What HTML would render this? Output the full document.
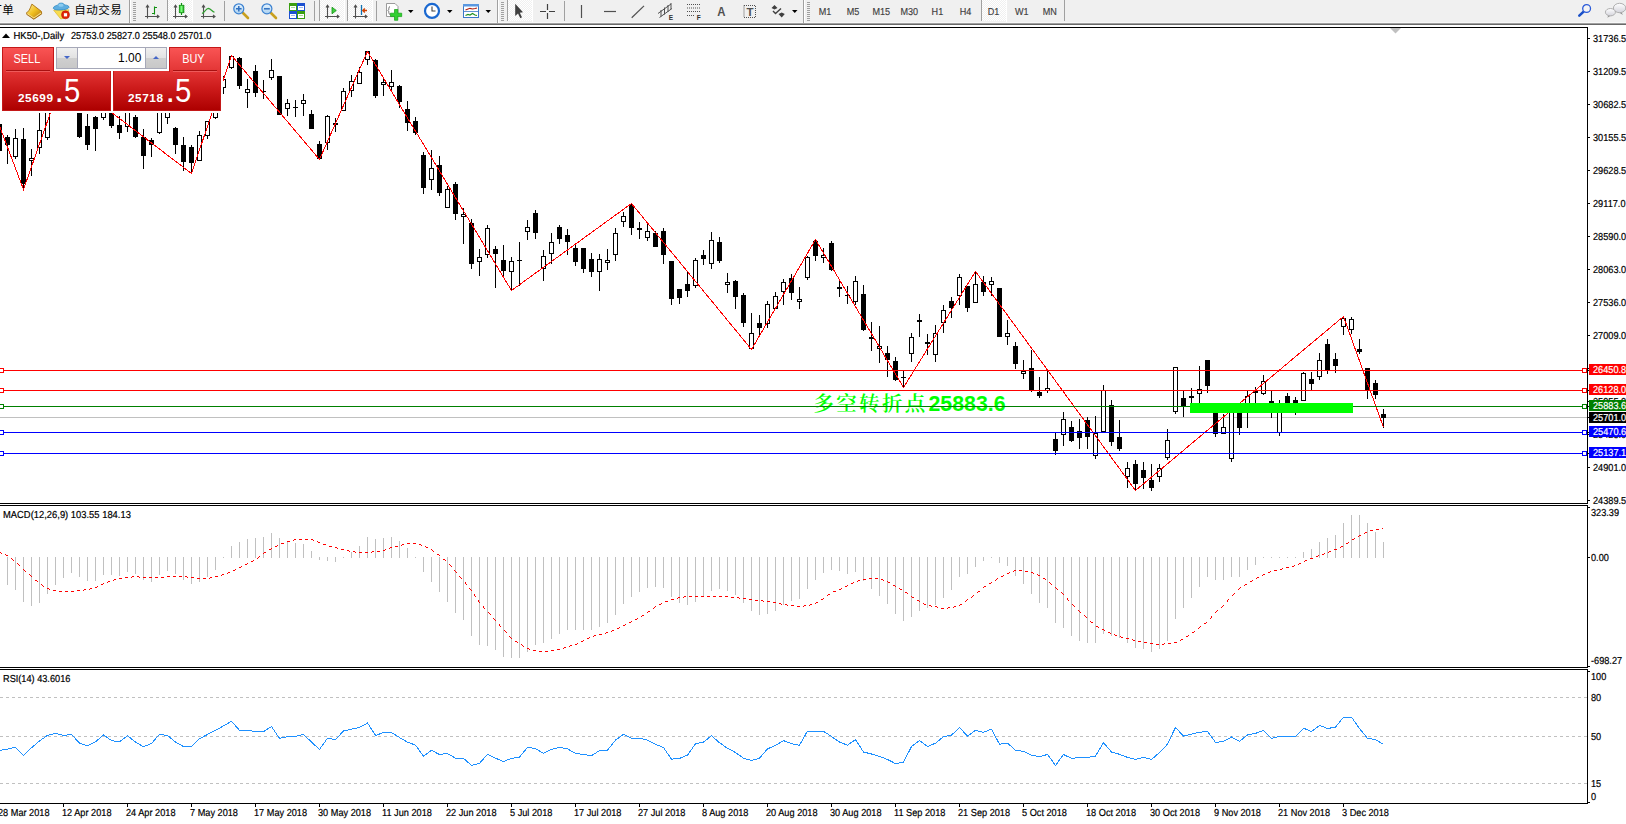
<!DOCTYPE html>
<html><head><meta charset="utf-8"><title>HK50-,Daily</title>
<style>
html,body{margin:0;padding:0;background:#fff}
body{width:1626px;height:824px;overflow:hidden;position:relative;font-family:"Liberation Sans","Noto Sans CJK SC",sans-serif}
.tp{position:absolute;left:0;top:45px;width:224px;height:68px}
.tpbg{position:absolute;left:0;top:0;width:223px;height:68px;background:#fff}
.tab{z-index:2;position:absolute;top:2px;width:52px;height:25px;box-sizing:border-box;border:1px solid #c41818;border-bottom:none;background:linear-gradient(#f95454,#e23434);color:#fff;font-size:13px;text-align:center;line-height:22px}
.tab span{display:inline-block;transform:scaleX(0.84);position:relative;top:0px;left:-1.5px}
.tab i{position:absolute;left:3px;right:3px;bottom:1px;height:1px;background:#a81010;box-shadow:0 1px 0 #ee5a5a}
.sell{left:2px}.buy{left:169px}
.px{position:absolute;top:26px;height:40px;width:109px;box-sizing:border-box;border:1px solid #c41818;border-top:none;background:linear-gradient(#e23434,#cc1a1a 45%,#ad0000);color:#fff}
.sellp{left:2px}.buyp{left:113px;width:108px}
.px b{position:absolute;left:15px;top:20px;font-size:11.8px;font-weight:bold;line-height:14px;letter-spacing:0.55px}
.px em{position:absolute;left:51.5px;top:0px;font-style:normal;font-size:34px;line-height:38px}
.px u{position:absolute;left:61px;top:0px;text-decoration:none;font-size:34px;line-height:38px;transform:scaleX(0.86);transform-origin:left}
.buyp b{left:14px}.buyp em{left:51.5px}.buyp u{left:61px}
.spin{position:absolute;left:56px;top:2px;width:111px;height:22px;box-sizing:border-box;border:1px solid #a6a8b8;background:#fff}
.sb{position:absolute;top:0;width:20px;height:20px;background:linear-gradient(#efefef,#e2e2e2 50%,#cfcfcf 51%,#c8c8c8)}
.sb.l{left:0;border-right:1px solid #a6a8b8}.sb.r{right:0;border-left:1px solid #a6a8b8}
.sb s{position:absolute;left:7px;top:8px;width:0;height:0;border-left:3px solid transparent;border-right:3px solid transparent}
.sb s.dn{border-top:3px solid #4466c8}.sb s.up{border-bottom:3px solid #4466c8}
.val{position:absolute;right:25px;top:0;font-size:13px;line-height:20px;color:#000;transform:scaleX(0.92);transform-origin:right}

</style></head><body>
<svg width="1626" height="824" viewBox="0 0 1626 824" shape-rendering="crispEdges" style="position:absolute;left:0;top:0"><rect x="0" y="27" width="1588" height="1" fill="#000"/>
<rect x="1587" y="27" width="1" height="477" fill="#000"/>
<rect x="0" y="503" width="1588" height="1" fill="#000"/>
<rect x="0" y="505" width="1588" height="1" fill="#000"/>
<rect x="1587" y="505" width="1" height="163" fill="#000"/>
<rect x="0" y="667" width="1588" height="1" fill="#000"/>
<rect x="0" y="669" width="1588" height="1" fill="#000"/>
<rect x="1587" y="669" width="1" height="135" fill="#000"/>
<rect x="0" y="803" width="1588" height="1" fill="#000"/>
<polygon points="1390,28 1401,28 1395.5,33.5" fill="#c0c0c0" shape-rendering="geometricPrecision"/>
<rect x="0" y="417" width="1587" height="1" fill="#c0c0c0"/>
<g><rect x="-1" y="122" width="1" height="31" fill="#000"/><rect x="-3" y="124" width="5" height="27" fill="#000"/><rect x="7" y="135" width="1" height="29" fill="#000"/><rect x="5" y="137" width="5" height="8" fill="#000"/><rect x="15" y="129" width="1" height="30" fill="#000"/><rect x="13" y="138" width="5" height="19" fill="#000"/><rect x="14" y="139" width="3" height="17" fill="#fff"/><rect x="23" y="128" width="1" height="62" fill="#000"/><rect x="21" y="139" width="5" height="45" fill="#000"/><rect x="31" y="149" width="1" height="27" fill="#000"/><rect x="29" y="158" width="5" height="3" fill="#000"/><rect x="30" y="159" width="3" height="1" fill="#fff"/><rect x="39" y="100" width="1" height="54" fill="#000"/><rect x="37" y="130" width="5" height="18" fill="#000"/><rect x="38" y="131" width="3" height="16" fill="#fff"/><rect x="47" y="100" width="1" height="40" fill="#000"/><rect x="45" y="105" width="5" height="33" fill="#000"/><rect x="46" y="106" width="3" height="31" fill="#fff"/><rect x="79" y="100" width="1" height="38" fill="#000"/><rect x="77" y="105" width="5" height="32" fill="#000"/><rect x="87" y="114" width="1" height="36" fill="#000"/><rect x="85" y="126" width="5" height="19" fill="#000"/><rect x="95" y="116" width="1" height="35" fill="#000"/><rect x="93" y="117" width="5" height="12" fill="#000"/><rect x="103" y="100" width="1" height="20" fill="#000"/><rect x="101" y="105" width="5" height="13" fill="#000"/><rect x="102" y="106" width="3" height="11" fill="#fff"/><rect x="111" y="100" width="1" height="28" fill="#000"/><rect x="109" y="105" width="5" height="21" fill="#000"/><rect x="119" y="116" width="1" height="23" fill="#000"/><rect x="117" y="125" width="5" height="8" fill="#000"/><rect x="127" y="100" width="1" height="32" fill="#000"/><rect x="125" y="105" width="5" height="22" fill="#000"/><rect x="126" y="106" width="3" height="20" fill="#fff"/><rect x="135" y="115" width="1" height="23" fill="#000"/><rect x="133" y="117" width="5" height="20" fill="#000"/><rect x="143" y="129" width="1" height="40" fill="#000"/><rect x="141" y="137" width="5" height="19" fill="#000"/><rect x="151" y="138" width="1" height="19" fill="#000"/><rect x="149" y="140" width="5" height="5" fill="#000"/><rect x="159" y="100" width="1" height="34" fill="#000"/><rect x="157" y="105" width="5" height="28" fill="#000"/><rect x="158" y="106" width="3" height="26" fill="#fff"/><rect x="167" y="100" width="1" height="24" fill="#000"/><rect x="165" y="105" width="5" height="13" fill="#000"/><rect x="166" y="106" width="3" height="11" fill="#fff"/><rect x="175" y="127" width="1" height="27" fill="#000"/><rect x="173" y="128" width="5" height="17" fill="#000"/><rect x="183" y="137" width="1" height="34" fill="#000"/><rect x="181" y="145" width="5" height="17" fill="#000"/><rect x="191" y="145" width="1" height="29" fill="#000"/><rect x="189" y="147" width="5" height="16" fill="#000"/><rect x="199" y="131" width="1" height="30" fill="#000"/><rect x="197" y="135" width="5" height="26" fill="#000"/><rect x="198" y="136" width="3" height="24" fill="#fff"/><rect x="207" y="121" width="1" height="18" fill="#000"/><rect x="205" y="121" width="5" height="15" fill="#000"/><rect x="206" y="122" width="3" height="13" fill="#fff"/><rect x="215" y="100" width="1" height="19" fill="#000"/><rect x="213" y="105" width="5" height="13" fill="#000"/><rect x="214" y="106" width="3" height="11" fill="#fff"/><rect x="223" y="76" width="1" height="18" fill="#000"/><rect x="221" y="79" width="5" height="9" fill="#000"/><rect x="222" y="80" width="3" height="7" fill="#fff"/><rect x="231" y="55" width="1" height="14" fill="#000"/><rect x="229" y="56" width="5" height="12" fill="#000"/><rect x="230" y="57" width="3" height="10" fill="#fff"/><rect x="239" y="57" width="1" height="32" fill="#000"/><rect x="237" y="58" width="5" height="28" fill="#000"/><rect x="247" y="79" width="1" height="29" fill="#000"/><rect x="245" y="89" width="5" height="4" fill="#000"/><rect x="246" y="90" width="3" height="2" fill="#fff"/><rect x="255" y="65" width="1" height="32" fill="#000"/><rect x="253" y="71" width="5" height="22" fill="#000"/><rect x="263" y="80" width="1" height="19" fill="#000"/><rect x="261" y="91" width="5" height="1" fill="#000"/><rect x="271" y="59" width="1" height="21" fill="#000"/><rect x="269" y="70" width="5" height="8" fill="#000"/><rect x="270" y="71" width="3" height="6" fill="#fff"/><rect x="279" y="76" width="1" height="39" fill="#000"/><rect x="277" y="76" width="5" height="39" fill="#000"/><rect x="287" y="99" width="1" height="17" fill="#000"/><rect x="285" y="103" width="5" height="6" fill="#000"/><rect x="286" y="104" width="3" height="4" fill="#fff"/><rect x="295" y="100" width="1" height="17" fill="#000"/><rect x="293" y="107" width="5" height="1" fill="#000"/><rect x="303" y="94" width="1" height="22" fill="#000"/><rect x="301" y="100" width="5" height="4" fill="#000"/><rect x="302" y="101" width="3" height="2" fill="#fff"/><rect x="311" y="110" width="1" height="19" fill="#000"/><rect x="309" y="114" width="5" height="15" fill="#000"/><rect x="319" y="141" width="1" height="19" fill="#000"/><rect x="317" y="144" width="5" height="15" fill="#000"/><rect x="327" y="115" width="1" height="35" fill="#000"/><rect x="325" y="116" width="5" height="27" fill="#000"/><rect x="326" y="117" width="3" height="25" fill="#fff"/><rect x="335" y="118" width="1" height="14" fill="#000"/><rect x="333" y="123" width="5" height="2" fill="#000"/><rect x="343" y="88" width="1" height="23" fill="#000"/><rect x="341" y="91" width="5" height="20" fill="#000"/><rect x="342" y="92" width="3" height="18" fill="#fff"/><rect x="351" y="75" width="1" height="22" fill="#000"/><rect x="349" y="81" width="5" height="10" fill="#000"/><rect x="350" y="82" width="3" height="8" fill="#fff"/><rect x="359" y="67" width="1" height="17" fill="#000"/><rect x="357" y="72" width="5" height="12" fill="#000"/><rect x="358" y="73" width="3" height="10" fill="#fff"/><rect x="367" y="51" width="1" height="14" fill="#000"/><rect x="365" y="51" width="5" height="9" fill="#000"/><rect x="366" y="52" width="3" height="7" fill="#fff"/><rect x="375" y="59" width="1" height="39" fill="#000"/><rect x="373" y="60" width="5" height="36" fill="#000"/><rect x="383" y="78" width="1" height="18" fill="#000"/><rect x="381" y="82" width="5" height="3" fill="#000"/><rect x="382" y="83" width="3" height="1" fill="#fff"/><rect x="391" y="70" width="1" height="21" fill="#000"/><rect x="389" y="82" width="5" height="5" fill="#000"/><rect x="390" y="83" width="3" height="3" fill="#fff"/><rect x="399" y="85" width="1" height="23" fill="#000"/><rect x="397" y="86" width="5" height="16" fill="#000"/><rect x="407" y="101" width="1" height="30" fill="#000"/><rect x="405" y="109" width="5" height="14" fill="#000"/><rect x="415" y="117" width="1" height="18" fill="#000"/><rect x="413" y="121" width="5" height="12" fill="#000"/><rect x="423" y="152" width="1" height="42" fill="#000"/><rect x="421" y="155" width="5" height="33" fill="#000"/><rect x="431" y="150" width="1" height="40" fill="#000"/><rect x="429" y="168" width="5" height="12" fill="#000"/><rect x="430" y="169" width="3" height="10" fill="#fff"/><rect x="439" y="156" width="1" height="40" fill="#000"/><rect x="437" y="165" width="5" height="28" fill="#000"/><rect x="447" y="186" width="1" height="22" fill="#000"/><rect x="445" y="189" width="5" height="19" fill="#000"/><rect x="446" y="190" width="3" height="17" fill="#fff"/><rect x="455" y="182" width="1" height="38" fill="#000"/><rect x="453" y="184" width="5" height="30" fill="#000"/><rect x="463" y="208" width="1" height="36" fill="#000"/><rect x="461" y="214" width="5" height="3" fill="#000"/><rect x="462" y="215" width="3" height="1" fill="#fff"/><rect x="471" y="219" width="1" height="50" fill="#000"/><rect x="469" y="223" width="5" height="41" fill="#000"/><rect x="479" y="249" width="1" height="27" fill="#000"/><rect x="477" y="257" width="5" height="5" fill="#000"/><rect x="478" y="258" width="3" height="3" fill="#fff"/><rect x="487" y="225" width="1" height="33" fill="#000"/><rect x="485" y="228" width="5" height="27" fill="#000"/><rect x="486" y="229" width="3" height="25" fill="#fff"/><rect x="495" y="246" width="1" height="42" fill="#000"/><rect x="493" y="249" width="5" height="5" fill="#000"/><rect x="503" y="245" width="1" height="33" fill="#000"/><rect x="501" y="260" width="5" height="11" fill="#000"/><rect x="511" y="257" width="1" height="34" fill="#000"/><rect x="509" y="261" width="5" height="11" fill="#000"/><rect x="510" y="262" width="3" height="9" fill="#fff"/><rect x="519" y="242" width="1" height="44" fill="#000"/><rect x="517" y="260" width="5" height="1" fill="#000"/><rect x="527" y="220" width="1" height="20" fill="#000"/><rect x="525" y="227" width="5" height="5" fill="#000"/><rect x="526" y="228" width="3" height="3" fill="#fff"/><rect x="535" y="210" width="1" height="29" fill="#000"/><rect x="533" y="213" width="5" height="20" fill="#000"/><rect x="543" y="250" width="1" height="31" fill="#000"/><rect x="541" y="256" width="5" height="13" fill="#000"/><rect x="542" y="257" width="3" height="11" fill="#fff"/><rect x="551" y="233" width="1" height="31" fill="#000"/><rect x="549" y="242" width="5" height="12" fill="#000"/><rect x="550" y="243" width="3" height="10" fill="#fff"/><rect x="559" y="225" width="1" height="19" fill="#000"/><rect x="557" y="227" width="5" height="12" fill="#000"/><rect x="567" y="229" width="1" height="26" fill="#000"/><rect x="565" y="235" width="5" height="7" fill="#000"/><rect x="575" y="243" width="1" height="23" fill="#000"/><rect x="573" y="248" width="5" height="14" fill="#000"/><rect x="583" y="248" width="1" height="25" fill="#000"/><rect x="581" y="248" width="5" height="21" fill="#000"/><rect x="591" y="253" width="1" height="24" fill="#000"/><rect x="589" y="259" width="5" height="13" fill="#000"/><rect x="599" y="254" width="1" height="37" fill="#000"/><rect x="597" y="259" width="5" height="13" fill="#000"/><rect x="598" y="260" width="3" height="11" fill="#fff"/><rect x="607" y="249" width="1" height="21" fill="#000"/><rect x="605" y="260" width="5" height="3" fill="#000"/><rect x="606" y="261" width="3" height="1" fill="#fff"/><rect x="615" y="228" width="1" height="33" fill="#000"/><rect x="613" y="233" width="5" height="22" fill="#000"/><rect x="614" y="234" width="3" height="20" fill="#fff"/><rect x="623" y="212" width="1" height="15" fill="#000"/><rect x="621" y="216" width="5" height="6" fill="#000"/><rect x="622" y="217" width="3" height="4" fill="#fff"/><rect x="631" y="203" width="1" height="32" fill="#000"/><rect x="629" y="205" width="5" height="23" fill="#000"/><rect x="639" y="222" width="1" height="17" fill="#000"/><rect x="637" y="228" width="5" height="2" fill="#000"/><rect x="647" y="222" width="1" height="19" fill="#000"/><rect x="645" y="231" width="5" height="7" fill="#000"/><rect x="646" y="232" width="3" height="5" fill="#fff"/><rect x="655" y="231" width="1" height="16" fill="#000"/><rect x="653" y="233" width="5" height="14" fill="#000"/><rect x="663" y="228" width="1" height="36" fill="#000"/><rect x="661" y="231" width="5" height="24" fill="#000"/><rect x="671" y="261" width="1" height="44" fill="#000"/><rect x="669" y="261" width="5" height="38" fill="#000"/><rect x="679" y="289" width="1" height="15" fill="#000"/><rect x="677" y="289" width="5" height="9" fill="#000"/><rect x="687" y="272" width="1" height="25" fill="#000"/><rect x="685" y="284" width="5" height="7" fill="#000"/><rect x="695" y="258" width="1" height="30" fill="#000"/><rect x="693" y="260" width="5" height="26" fill="#000"/><rect x="694" y="261" width="3" height="24" fill="#fff"/><rect x="703" y="250" width="1" height="15" fill="#000"/><rect x="701" y="255" width="5" height="4" fill="#000"/><rect x="711" y="232" width="1" height="37" fill="#000"/><rect x="709" y="240" width="5" height="24" fill="#000"/><rect x="710" y="241" width="3" height="22" fill="#fff"/><rect x="719" y="237" width="1" height="26" fill="#000"/><rect x="717" y="242" width="5" height="19" fill="#000"/><rect x="727" y="273" width="1" height="20" fill="#000"/><rect x="725" y="282" width="5" height="3" fill="#000"/><rect x="726" y="283" width="3" height="1" fill="#fff"/><rect x="735" y="280" width="1" height="29" fill="#000"/><rect x="733" y="281" width="5" height="16" fill="#000"/><rect x="743" y="293" width="1" height="34" fill="#000"/><rect x="741" y="295" width="5" height="28" fill="#000"/><rect x="751" y="313" width="1" height="37" fill="#000"/><rect x="749" y="333" width="5" height="16" fill="#000"/><rect x="750" y="334" width="3" height="14" fill="#fff"/><rect x="759" y="315" width="1" height="20" fill="#000"/><rect x="757" y="323" width="5" height="5" fill="#000"/><rect x="767" y="301" width="1" height="27" fill="#000"/><rect x="765" y="304" width="5" height="20" fill="#000"/><rect x="766" y="305" width="3" height="18" fill="#fff"/><rect x="775" y="292" width="1" height="17" fill="#000"/><rect x="773" y="296" width="5" height="13" fill="#000"/><rect x="774" y="297" width="3" height="11" fill="#fff"/><rect x="783" y="279" width="1" height="26" fill="#000"/><rect x="781" y="282" width="5" height="10" fill="#000"/><rect x="782" y="283" width="3" height="8" fill="#fff"/><rect x="791" y="274" width="1" height="26" fill="#000"/><rect x="789" y="278" width="5" height="15" fill="#000"/><rect x="799" y="287" width="1" height="22" fill="#000"/><rect x="797" y="299" width="5" height="3" fill="#000"/><rect x="798" y="300" width="3" height="1" fill="#fff"/><rect x="807" y="256" width="1" height="24" fill="#000"/><rect x="805" y="257" width="5" height="21" fill="#000"/><rect x="806" y="258" width="3" height="19" fill="#fff"/><rect x="815" y="239" width="1" height="22" fill="#000"/><rect x="813" y="241" width="5" height="15" fill="#000"/><rect x="823" y="248" width="1" height="15" fill="#000"/><rect x="821" y="255" width="5" height="3" fill="#000"/><rect x="822" y="256" width="3" height="1" fill="#fff"/><rect x="831" y="241" width="1" height="30" fill="#000"/><rect x="829" y="243" width="5" height="27" fill="#000"/><rect x="839" y="281" width="1" height="16" fill="#000"/><rect x="837" y="287" width="5" height="2" fill="#000"/><rect x="847" y="286" width="1" height="18" fill="#000"/><rect x="845" y="295" width="5" height="1" fill="#000"/><rect x="855" y="276" width="1" height="29" fill="#000"/><rect x="853" y="281" width="5" height="21" fill="#000"/><rect x="854" y="282" width="3" height="19" fill="#fff"/><rect x="863" y="285" width="1" height="46" fill="#000"/><rect x="861" y="294" width="5" height="36" fill="#000"/><rect x="871" y="322" width="1" height="29" fill="#000"/><rect x="869" y="337" width="5" height="2" fill="#000"/><rect x="879" y="326" width="1" height="37" fill="#000"/><rect x="877" y="346" width="5" height="3" fill="#000"/><rect x="878" y="347" width="3" height="1" fill="#fff"/><rect x="887" y="346" width="1" height="31" fill="#000"/><rect x="885" y="353" width="5" height="7" fill="#000"/><rect x="895" y="357" width="1" height="24" fill="#000"/><rect x="893" y="361" width="5" height="19" fill="#000"/><rect x="903" y="371" width="1" height="17" fill="#000"/><rect x="901" y="377" width="5" height="1" fill="#000"/><rect x="911" y="333" width="1" height="29" fill="#000"/><rect x="909" y="337" width="5" height="17" fill="#000"/><rect x="910" y="338" width="3" height="15" fill="#fff"/><rect x="919" y="314" width="1" height="23" fill="#000"/><rect x="917" y="320" width="5" height="2" fill="#000"/><rect x="927" y="334" width="1" height="21" fill="#000"/><rect x="925" y="342" width="5" height="2" fill="#000"/><rect x="935" y="325" width="1" height="37" fill="#000"/><rect x="933" y="333" width="5" height="22" fill="#000"/><rect x="934" y="334" width="3" height="20" fill="#fff"/><rect x="943" y="305" width="1" height="28" fill="#000"/><rect x="941" y="310" width="5" height="13" fill="#000"/><rect x="942" y="311" width="3" height="11" fill="#fff"/><rect x="951" y="297" width="1" height="21" fill="#000"/><rect x="949" y="301" width="5" height="7" fill="#000"/><rect x="959" y="274" width="1" height="31" fill="#000"/><rect x="957" y="277" width="5" height="19" fill="#000"/><rect x="958" y="278" width="3" height="17" fill="#fff"/><rect x="967" y="286" width="1" height="26" fill="#000"/><rect x="965" y="286" width="5" height="22" fill="#000"/><rect x="975" y="271" width="1" height="32" fill="#000"/><rect x="973" y="284" width="5" height="19" fill="#000"/><rect x="974" y="285" width="3" height="17" fill="#fff"/><rect x="983" y="276" width="1" height="20" fill="#000"/><rect x="981" y="282" width="5" height="10" fill="#000"/><rect x="991" y="277" width="1" height="19" fill="#000"/><rect x="989" y="281" width="5" height="4" fill="#000"/><rect x="990" y="282" width="3" height="2" fill="#fff"/><rect x="999" y="288" width="1" height="49" fill="#000"/><rect x="997" y="288" width="5" height="49" fill="#000"/><rect x="1007" y="320" width="1" height="25" fill="#000"/><rect x="1005" y="333" width="5" height="4" fill="#000"/><rect x="1006" y="334" width="3" height="2" fill="#fff"/><rect x="1015" y="342" width="1" height="27" fill="#000"/><rect x="1013" y="346" width="5" height="18" fill="#000"/><rect x="1023" y="360" width="1" height="19" fill="#000"/><rect x="1021" y="371" width="5" height="3" fill="#000"/><rect x="1022" y="372" width="3" height="1" fill="#fff"/><rect x="1031" y="350" width="1" height="42" fill="#000"/><rect x="1029" y="368" width="5" height="22" fill="#000"/><rect x="1039" y="377" width="1" height="21" fill="#000"/><rect x="1037" y="392" width="5" height="4" fill="#000"/><rect x="1047" y="369" width="1" height="24" fill="#000"/><rect x="1045" y="388" width="5" height="3" fill="#000"/><rect x="1046" y="389" width="3" height="1" fill="#fff"/><rect x="1055" y="432" width="1" height="23" fill="#000"/><rect x="1053" y="439" width="5" height="12" fill="#000"/><rect x="1063" y="412" width="1" height="34" fill="#000"/><rect x="1061" y="419" width="5" height="16" fill="#000"/><rect x="1062" y="420" width="3" height="14" fill="#fff"/><rect x="1071" y="421" width="1" height="21" fill="#000"/><rect x="1069" y="427" width="5" height="14" fill="#000"/><rect x="1079" y="419" width="1" height="30" fill="#000"/><rect x="1077" y="431" width="5" height="7" fill="#000"/><rect x="1087" y="417" width="1" height="32" fill="#000"/><rect x="1085" y="420" width="5" height="17" fill="#000"/><rect x="1095" y="416" width="1" height="43" fill="#000"/><rect x="1093" y="433" width="5" height="23" fill="#000"/><rect x="1094" y="434" width="3" height="21" fill="#fff"/><rect x="1103" y="385" width="1" height="47" fill="#000"/><rect x="1101" y="390" width="5" height="42" fill="#000"/><rect x="1102" y="391" width="3" height="40" fill="#fff"/><rect x="1111" y="400" width="1" height="46" fill="#000"/><rect x="1109" y="405" width="5" height="37" fill="#000"/><rect x="1119" y="420" width="1" height="31" fill="#000"/><rect x="1117" y="437" width="5" height="12" fill="#000"/><rect x="1127" y="462" width="1" height="26" fill="#000"/><rect x="1125" y="468" width="5" height="9" fill="#000"/><rect x="1126" y="469" width="3" height="7" fill="#fff"/><rect x="1135" y="460" width="1" height="31" fill="#000"/><rect x="1133" y="464" width="5" height="20" fill="#000"/><rect x="1143" y="462" width="1" height="27" fill="#000"/><rect x="1141" y="470" width="5" height="8" fill="#000"/><rect x="1151" y="464" width="1" height="27" fill="#000"/><rect x="1149" y="480" width="5" height="8" fill="#000"/><rect x="1159" y="464" width="1" height="18" fill="#000"/><rect x="1157" y="468" width="5" height="9" fill="#000"/><rect x="1158" y="469" width="3" height="7" fill="#fff"/><rect x="1167" y="429" width="1" height="31" fill="#000"/><rect x="1165" y="440" width="5" height="18" fill="#000"/><rect x="1166" y="441" width="3" height="16" fill="#fff"/><rect x="1175" y="367" width="1" height="47" fill="#000"/><rect x="1173" y="367" width="5" height="45" fill="#000"/><rect x="1174" y="368" width="3" height="43" fill="#fff"/><rect x="1183" y="391" width="1" height="26" fill="#000"/><rect x="1181" y="398" width="5" height="9" fill="#000"/><rect x="1191" y="388" width="1" height="17" fill="#000"/><rect x="1189" y="396" width="5" height="2" fill="#000"/><rect x="1199" y="366" width="1" height="39" fill="#000"/><rect x="1197" y="389" width="5" height="5" fill="#000"/><rect x="1198" y="390" width="3" height="3" fill="#fff"/><rect x="1207" y="360" width="1" height="33" fill="#000"/><rect x="1205" y="360" width="5" height="26" fill="#000"/><rect x="1215" y="405" width="1" height="32" fill="#000"/><rect x="1213" y="405" width="5" height="29" fill="#000"/><rect x="1223" y="414" width="1" height="20" fill="#000"/><rect x="1221" y="427" width="5" height="7" fill="#000"/><rect x="1222" y="428" width="3" height="5" fill="#fff"/><rect x="1231" y="405" width="1" height="57" fill="#000"/><rect x="1229" y="405" width="5" height="54" fill="#000"/><rect x="1230" y="406" width="3" height="52" fill="#fff"/><rect x="1239" y="405" width="1" height="30" fill="#000"/><rect x="1237" y="405" width="5" height="23" fill="#000"/><rect x="1247" y="391" width="1" height="37" fill="#000"/><rect x="1245" y="396" width="5" height="12" fill="#000"/><rect x="1246" y="397" width="3" height="10" fill="#fff"/><rect x="1255" y="387" width="1" height="18" fill="#000"/><rect x="1253" y="391" width="5" height="2" fill="#000"/><rect x="1263" y="375" width="1" height="20" fill="#000"/><rect x="1261" y="381" width="5" height="13" fill="#000"/><rect x="1262" y="382" width="3" height="11" fill="#fff"/><rect x="1271" y="391" width="1" height="27" fill="#000"/><rect x="1269" y="401" width="5" height="4" fill="#000"/><rect x="1279" y="400" width="1" height="36" fill="#000"/><rect x="1277" y="405" width="5" height="28" fill="#000"/><rect x="1278" y="406" width="3" height="26" fill="#fff"/><rect x="1287" y="393" width="1" height="12" fill="#000"/><rect x="1285" y="396" width="5" height="9" fill="#000"/><rect x="1295" y="397" width="1" height="18" fill="#000"/><rect x="1293" y="400" width="5" height="5" fill="#000"/><rect x="1303" y="372" width="1" height="29" fill="#000"/><rect x="1301" y="373" width="5" height="28" fill="#000"/><rect x="1302" y="374" width="3" height="26" fill="#fff"/><rect x="1311" y="372" width="1" height="18" fill="#000"/><rect x="1309" y="379" width="5" height="5" fill="#000"/><rect x="1319" y="353" width="1" height="27" fill="#000"/><rect x="1317" y="360" width="5" height="17" fill="#000"/><rect x="1318" y="361" width="3" height="15" fill="#fff"/><rect x="1327" y="339" width="1" height="35" fill="#000"/><rect x="1325" y="344" width="5" height="26" fill="#000"/><rect x="1335" y="353" width="1" height="20" fill="#000"/><rect x="1333" y="359" width="5" height="7" fill="#000"/><rect x="1343" y="316" width="1" height="19" fill="#000"/><rect x="1341" y="318" width="5" height="9" fill="#000"/><rect x="1342" y="319" width="3" height="7" fill="#fff"/><rect x="1351" y="317" width="1" height="17" fill="#000"/><rect x="1349" y="319" width="5" height="11" fill="#000"/><rect x="1350" y="320" width="3" height="9" fill="#fff"/><rect x="1359" y="339" width="1" height="15" fill="#000"/><rect x="1357" y="349" width="5" height="3" fill="#000"/><rect x="1367" y="368" width="1" height="31" fill="#000"/><rect x="1365" y="368" width="5" height="22" fill="#000"/><rect x="1375" y="380" width="1" height="19" fill="#000"/><rect x="1373" y="383" width="5" height="12" fill="#000"/><rect x="1383" y="409" width="1" height="19" fill="#000"/><rect x="1381" y="414" width="5" height="4" fill="#000"/></g>
<polyline points="-8.5,104.8 23.5,189.5 63.5,75.7 191.5,173.5 231.5,55.5 319.5,159.5 367.5,51.5 511.5,290.5 631.5,203.5 751.5,349.5 815.5,239.5 903.5,387.5 975.5,271.5 1135.5,490.5 1343.5,316.5 1383.5,427.5" fill="none" stroke="#f00" stroke-width="1"/>
<text x="813.5" y="411" fill="#0f0" font-size="21.33px" shape-rendering="geometricPrecision"><tspan font-family="Noto Serif CJK SC, serif" font-weight="600" font-size="20.5px" letter-spacing="2.3">多空转折点</tspan><tspan font-family="Liberation Sans, sans-serif" font-weight="bold" x="928.5">25883.6</tspan></text>
<rect x="0" y="370" width="1587" height="1" fill="#f00"/>
<rect x="-0.5" y="368.5" width="4" height="4" fill="#fff" stroke="#f00" stroke-width="1"/>
<rect x="1582.5" y="368.5" width="4" height="4" fill="#fff" stroke="#f00" stroke-width="1"/>
<rect x="0" y="390" width="1587" height="1" fill="#f00"/>
<rect x="-0.5" y="388.5" width="4" height="4" fill="#fff" stroke="#f00" stroke-width="1"/>
<rect x="1582.5" y="388.5" width="4" height="4" fill="#fff" stroke="#f00" stroke-width="1"/>
<rect x="0" y="406" width="1587" height="1" fill="#008000"/>
<rect x="-0.5" y="404.5" width="4" height="4" fill="#fff" stroke="#008000" stroke-width="1"/>
<rect x="1582.5" y="404.5" width="4" height="4" fill="#fff" stroke="#008000" stroke-width="1"/>
<rect x="0" y="432" width="1587" height="1" fill="#00f"/>
<rect x="-0.5" y="430.5" width="4" height="4" fill="#fff" stroke="#00f" stroke-width="1"/>
<rect x="1582.5" y="430.5" width="4" height="4" fill="#fff" stroke="#00f" stroke-width="1"/>
<rect x="0" y="453" width="1587" height="1" fill="#00f"/>
<rect x="-0.5" y="451.5" width="4" height="4" fill="#fff" stroke="#00f" stroke-width="1"/>
<rect x="1582.5" y="451.5" width="4" height="4" fill="#fff" stroke="#00f" stroke-width="1"/>
<rect x="1190" y="403" width="163" height="10" fill="#0f0"/>
<rect x="1588" y="38" width="2" height="1" fill="#000"/>
<rect x="1588" y="71" width="2" height="1" fill="#000"/>
<rect x="1588" y="104" width="2" height="1" fill="#000"/>
<rect x="1588" y="137" width="2" height="1" fill="#000"/>
<rect x="1588" y="170" width="2" height="1" fill="#000"/>
<rect x="1588" y="203" width="2" height="1" fill="#000"/>
<rect x="1588" y="236" width="2" height="1" fill="#000"/>
<rect x="1588" y="269" width="2" height="1" fill="#000"/>
<rect x="1588" y="302" width="2" height="1" fill="#000"/>
<rect x="1588" y="335" width="2" height="1" fill="#000"/>
<rect x="1588" y="368" width="2" height="1" fill="#000"/>
<rect x="1588" y="401" width="2" height="1" fill="#000"/>
<rect x="1588" y="434" width="2" height="1" fill="#000"/>
<rect x="1588" y="467" width="2" height="1" fill="#000"/>
<rect x="1588" y="500" width="2" height="1" fill="#000"/>
<g><rect x="7" y="557" width="1" height="28" fill="#c0c0c0"/><rect x="15" y="557" width="1" height="33" fill="#c0c0c0"/><rect x="23" y="557" width="1" height="45" fill="#c0c0c0"/><rect x="31" y="557" width="1" height="49" fill="#c0c0c0"/><rect x="39" y="557" width="1" height="46" fill="#c0c0c0"/><rect x="47" y="557" width="1" height="37" fill="#c0c0c0"/><rect x="55" y="557" width="1" height="28" fill="#c0c0c0"/><rect x="63" y="557" width="1" height="21" fill="#c0c0c0"/><rect x="71" y="557" width="1" height="16" fill="#c0c0c0"/><rect x="79" y="557" width="1" height="20" fill="#c0c0c0"/><rect x="87" y="557" width="1" height="24" fill="#c0c0c0"/><rect x="95" y="557" width="1" height="24" fill="#c0c0c0"/><rect x="103" y="557" width="1" height="18" fill="#c0c0c0"/><rect x="111" y="557" width="1" height="18" fill="#c0c0c0"/><rect x="119" y="557" width="1" height="19" fill="#c0c0c0"/><rect x="127" y="557" width="1" height="15" fill="#c0c0c0"/><rect x="135" y="557" width="1" height="17" fill="#c0c0c0"/><rect x="143" y="557" width="1" height="23" fill="#c0c0c0"/><rect x="151" y="557" width="1" height="25" fill="#c0c0c0"/><rect x="159" y="557" width="1" height="18" fill="#c0c0c0"/><rect x="167" y="557" width="1" height="14" fill="#c0c0c0"/><rect x="175" y="557" width="1" height="17" fill="#c0c0c0"/><rect x="183" y="557" width="1" height="23" fill="#c0c0c0"/><rect x="191" y="557" width="1" height="27" fill="#c0c0c0"/><rect x="199" y="557" width="1" height="25" fill="#c0c0c0"/><rect x="207" y="557" width="1" height="20" fill="#c0c0c0"/><rect x="215" y="557" width="1" height="13" fill="#c0c0c0"/><rect x="223" y="557" width="1" height="1" fill="#c0c0c0"/><rect x="231" y="546" width="1" height="12" fill="#c0c0c0"/><rect x="239" y="542" width="1" height="16" fill="#c0c0c0"/><rect x="247" y="539" width="1" height="19" fill="#c0c0c0"/><rect x="255" y="538" width="1" height="20" fill="#c0c0c0"/><rect x="263" y="537" width="1" height="21" fill="#c0c0c0"/><rect x="271" y="533" width="1" height="25" fill="#c0c0c0"/><rect x="279" y="538" width="1" height="20" fill="#c0c0c0"/><rect x="287" y="541" width="1" height="17" fill="#c0c0c0"/><rect x="295" y="543" width="1" height="15" fill="#c0c0c0"/><rect x="303" y="544" width="1" height="14" fill="#c0c0c0"/><rect x="311" y="551" width="1" height="7" fill="#c0c0c0"/><rect x="319" y="557" width="1" height="3" fill="#c0c0c0"/><rect x="327" y="557" width="1" height="4" fill="#c0c0c0"/><rect x="335" y="557" width="1" height="5" fill="#c0c0c0"/><rect x="343" y="557" width="1" height="1" fill="#c0c0c0"/><rect x="351" y="552" width="1" height="6" fill="#c0c0c0"/><rect x="359" y="546" width="1" height="12" fill="#c0c0c0"/><rect x="367" y="537" width="1" height="21" fill="#c0c0c0"/><rect x="375" y="539" width="1" height="19" fill="#c0c0c0"/><rect x="383" y="538" width="1" height="20" fill="#c0c0c0"/><rect x="391" y="537" width="1" height="21" fill="#c0c0c0"/><rect x="399" y="541" width="1" height="17" fill="#c0c0c0"/><rect x="407" y="548" width="1" height="10" fill="#c0c0c0"/><rect x="415" y="557" width="1" height="1" fill="#c0c0c0"/><rect x="423" y="557" width="1" height="15" fill="#c0c0c0"/><rect x="431" y="557" width="1" height="25" fill="#c0c0c0"/><rect x="439" y="557" width="1" height="35" fill="#c0c0c0"/><rect x="447" y="557" width="1" height="45" fill="#c0c0c0"/><rect x="455" y="557" width="1" height="56" fill="#c0c0c0"/><rect x="463" y="557" width="1" height="63" fill="#c0c0c0"/><rect x="471" y="557" width="1" height="79" fill="#c0c0c0"/><rect x="479" y="557" width="1" height="88" fill="#c0c0c0"/><rect x="487" y="557" width="1" height="89" fill="#c0c0c0"/><rect x="495" y="557" width="1" height="93" fill="#c0c0c0"/><rect x="503" y="557" width="1" height="100" fill="#c0c0c0"/><rect x="511" y="557" width="1" height="101" fill="#c0c0c0"/><rect x="519" y="557" width="1" height="101" fill="#c0c0c0"/><rect x="527" y="557" width="1" height="95" fill="#c0c0c0"/><rect x="535" y="557" width="1" height="88" fill="#c0c0c0"/><rect x="543" y="557" width="1" height="86" fill="#c0c0c0"/><rect x="551" y="557" width="1" height="82" fill="#c0c0c0"/><rect x="559" y="557" width="1" height="77" fill="#c0c0c0"/><rect x="567" y="557" width="1" height="73" fill="#c0c0c0"/><rect x="575" y="557" width="1" height="73" fill="#c0c0c0"/><rect x="583" y="557" width="1" height="73" fill="#c0c0c0"/><rect x="591" y="557" width="1" height="73" fill="#c0c0c0"/><rect x="599" y="557" width="1" height="70" fill="#c0c0c0"/><rect x="607" y="557" width="1" height="66" fill="#c0c0c0"/><rect x="615" y="557" width="1" height="58" fill="#c0c0c0"/><rect x="623" y="557" width="1" height="47" fill="#c0c0c0"/><rect x="631" y="557" width="1" height="40" fill="#c0c0c0"/><rect x="639" y="557" width="1" height="35" fill="#c0c0c0"/><rect x="647" y="557" width="1" height="31" fill="#c0c0c0"/><rect x="655" y="557" width="1" height="30" fill="#c0c0c0"/><rect x="663" y="557" width="1" height="31" fill="#c0c0c0"/><rect x="671" y="557" width="1" height="40" fill="#c0c0c0"/><rect x="679" y="557" width="1" height="46" fill="#c0c0c0"/><rect x="687" y="557" width="1" height="48" fill="#c0c0c0"/><rect x="695" y="557" width="1" height="45" fill="#c0c0c0"/><rect x="703" y="557" width="1" height="40" fill="#c0c0c0"/><rect x="711" y="557" width="1" height="34" fill="#c0c0c0"/><rect x="719" y="557" width="1" height="32" fill="#c0c0c0"/><rect x="727" y="557" width="1" height="34" fill="#c0c0c0"/><rect x="735" y="557" width="1" height="38" fill="#c0c0c0"/><rect x="743" y="557" width="1" height="46" fill="#c0c0c0"/><rect x="751" y="557" width="1" height="54" fill="#c0c0c0"/><rect x="759" y="557" width="1" height="58" fill="#c0c0c0"/><rect x="767" y="557" width="1" height="57" fill="#c0c0c0"/><rect x="775" y="557" width="1" height="54" fill="#c0c0c0"/><rect x="783" y="557" width="1" height="48" fill="#c0c0c0"/><rect x="791" y="557" width="1" height="44" fill="#c0c0c0"/><rect x="799" y="557" width="1" height="42" fill="#c0c0c0"/><rect x="807" y="557" width="1" height="32" fill="#c0c0c0"/><rect x="815" y="557" width="1" height="23" fill="#c0c0c0"/><rect x="823" y="557" width="1" height="16" fill="#c0c0c0"/><rect x="831" y="557" width="1" height="13" fill="#c0c0c0"/><rect x="839" y="557" width="1" height="14" fill="#c0c0c0"/><rect x="847" y="557" width="1" height="17" fill="#c0c0c0"/><rect x="855" y="557" width="1" height="15" fill="#c0c0c0"/><rect x="863" y="557" width="1" height="24" fill="#c0c0c0"/><rect x="871" y="557" width="1" height="32" fill="#c0c0c0"/><rect x="879" y="557" width="1" height="39" fill="#c0c0c0"/><rect x="887" y="557" width="1" height="47" fill="#c0c0c0"/><rect x="895" y="557" width="1" height="57" fill="#c0c0c0"/><rect x="903" y="557" width="1" height="64" fill="#c0c0c0"/><rect x="911" y="557" width="1" height="60" fill="#c0c0c0"/><rect x="919" y="557" width="1" height="54" fill="#c0c0c0"/><rect x="927" y="557" width="1" height="51" fill="#c0c0c0"/><rect x="935" y="557" width="1" height="48" fill="#c0c0c0"/><rect x="943" y="557" width="1" height="41" fill="#c0c0c0"/><rect x="951" y="557" width="1" height="33" fill="#c0c0c0"/><rect x="959" y="557" width="1" height="20" fill="#c0c0c0"/><rect x="967" y="557" width="1" height="17" fill="#c0c0c0"/><rect x="975" y="557" width="1" height="10" fill="#c0c0c0"/><rect x="983" y="557" width="1" height="4" fill="#c0c0c0"/><rect x="991" y="557" width="1" height="1" fill="#c0c0c0"/><rect x="999" y="557" width="1" height="6" fill="#c0c0c0"/><rect x="1007" y="557" width="1" height="9" fill="#c0c0c0"/><rect x="1015" y="557" width="1" height="19" fill="#c0c0c0"/><rect x="1023" y="557" width="1" height="27" fill="#c0c0c0"/><rect x="1031" y="557" width="1" height="37" fill="#c0c0c0"/><rect x="1039" y="557" width="1" height="46" fill="#c0c0c0"/><rect x="1047" y="557" width="1" height="51" fill="#c0c0c0"/><rect x="1055" y="557" width="1" height="66" fill="#c0c0c0"/><rect x="1063" y="557" width="1" height="71" fill="#c0c0c0"/><rect x="1071" y="557" width="1" height="79" fill="#c0c0c0"/><rect x="1079" y="557" width="1" height="84" fill="#c0c0c0"/><rect x="1087" y="557" width="1" height="86" fill="#c0c0c0"/><rect x="1095" y="557" width="1" height="86" fill="#c0c0c0"/><rect x="1103" y="557" width="1" height="77" fill="#c0c0c0"/><rect x="1111" y="557" width="1" height="79" fill="#c0c0c0"/><rect x="1119" y="557" width="1" height="81" fill="#c0c0c0"/><rect x="1127" y="557" width="1" height="86" fill="#c0c0c0"/><rect x="1135" y="557" width="1" height="91" fill="#c0c0c0"/><rect x="1143" y="557" width="1" height="92" fill="#c0c0c0"/><rect x="1151" y="557" width="1" height="95" fill="#c0c0c0"/><rect x="1159" y="557" width="1" height="92" fill="#c0c0c0"/><rect x="1167" y="557" width="1" height="84" fill="#c0c0c0"/><rect x="1175" y="557" width="1" height="62" fill="#c0c0c0"/><rect x="1183" y="557" width="1" height="51" fill="#c0c0c0"/><rect x="1191" y="557" width="1" height="41" fill="#c0c0c0"/><rect x="1199" y="557" width="1" height="30" fill="#c0c0c0"/><rect x="1207" y="557" width="1" height="20" fill="#c0c0c0"/><rect x="1215" y="557" width="1" height="23" fill="#c0c0c0"/><rect x="1223" y="557" width="1" height="23" fill="#c0c0c0"/><rect x="1231" y="557" width="1" height="20" fill="#c0c0c0"/><rect x="1239" y="557" width="1" height="20" fill="#c0c0c0"/><rect x="1247" y="557" width="1" height="13" fill="#c0c0c0"/><rect x="1255" y="557" width="1" height="8" fill="#c0c0c0"/><rect x="1263" y="557" width="1" height="1" fill="#c0c0c0"/><rect x="1271" y="557" width="1" height="1" fill="#c0c0c0"/><rect x="1279" y="557" width="1" height="1" fill="#c0c0c0"/><rect x="1287" y="557" width="1" height="1" fill="#c0c0c0"/><rect x="1295" y="557" width="1" height="1" fill="#c0c0c0"/><rect x="1303" y="552" width="1" height="6" fill="#c0c0c0"/><rect x="1311" y="549" width="1" height="9" fill="#c0c0c0"/><rect x="1319" y="542" width="1" height="16" fill="#c0c0c0"/><rect x="1327" y="538" width="1" height="20" fill="#c0c0c0"/><rect x="1335" y="535" width="1" height="23" fill="#c0c0c0"/><rect x="1343" y="523" width="1" height="35" fill="#c0c0c0"/><rect x="1351" y="515" width="1" height="43" fill="#c0c0c0"/><rect x="1359" y="515" width="1" height="43" fill="#c0c0c0"/><rect x="1367" y="523" width="1" height="35" fill="#c0c0c0"/><rect x="1375" y="532" width="1" height="26" fill="#c0c0c0"/><rect x="1383" y="542" width="1" height="16" fill="#c0c0c0"/></g>
<path d="M-1 552.5h1M0 552.5h1M1 553.5h1M5 554.5h1M6 555.5h1M7 555.5h1M11 558.5h1M12 559.5h1M13 560.5h1M17 563.5h1M18 564.5h1M19 565.5h1M23 569.5h1M24 570.5h1M25 571.5h1M29 574.5h1M30 575.5h1M31 576.5h1M35 580.5h1M36 580.5h1M37 581.5h1M41 584.5h1M42 585.5h1M43 586.5h1M47 588.5h1M48 588.5h1M49 589.5h1M53 590.5h1M54 590.5h1M55 590.5h1M59 591.5h1M60 591.5h1M61 591.5h1M65 591.5h1M66 591.5h1M67 591.5h1M71 591.5h1M72 591.5h1M73 591.5h1M77 590.5h1M78 590.5h1M79 590.5h1M83 590.5h1M84 589.5h1M85 589.5h1M89 589.5h1M90 588.5h1M91 588.5h1M95 587.5h1M96 587.5h1M97 586.5h1M101 584.5h1M102 584.5h1M103 583.5h1M107 582.5h1M108 581.5h1M109 581.5h1M113 580.5h1M114 579.5h1M115 579.5h1M119 578.5h1M120 578.5h1M121 578.5h1M125 577.5h1M126 577.5h1M127 577.5h1M131 577.5h1M132 576.5h1M133 576.5h1M137 576.5h1M138 576.5h1M139 577.5h1M143 577.5h1M144 577.5h1M145 577.5h1M149 577.5h1M150 577.5h1M151 577.5h1M155 577.5h1M156 577.5h1M157 577.5h1M161 577.5h1M162 577.5h1M163 577.5h1M167 576.5h1M168 576.5h1M169 576.5h1M173 576.5h1M174 576.5h1M175 576.5h1M179 576.5h1M180 576.5h1M181 576.5h1M185 576.5h1M186 576.5h1M187 577.5h1M191 577.5h1M192 577.5h1M193 577.5h1M197 578.5h1M198 578.5h1M199 578.5h1M203 578.5h1M204 578.5h1M205 578.5h1M209 578.5h1M210 577.5h1M211 577.5h1M215 576.5h1M216 576.5h1M217 576.5h1M221 575.5h1M222 574.5h1M223 574.5h1M227 573.5h1M228 572.5h1M229 572.5h1M233 570.5h1M234 570.5h1M235 569.5h1M239 567.5h1M240 567.5h1M241 566.5h1M245 564.5h1M246 564.5h1M247 563.5h1M251 561.5h1M252 561.5h1M253 560.5h1M257 558.5h1M258 557.5h1M259 556.5h1M263 553.5h1M264 552.5h1M265 552.5h1M269 549.5h1M270 549.5h1M271 548.5h1M275 546.5h1M276 546.5h1M277 545.5h1M281 543.5h1M282 543.5h1M283 543.5h1M287 541.5h1M288 541.5h1M289 541.5h1M293 540.5h1M294 539.5h1M295 539.5h1M299 539.5h1M300 539.5h1M301 539.5h1M305 539.5h1M306 539.5h1M307 539.5h1M311 539.5h1M312 539.5h1M313 540.5h1M317 541.5h1M318 542.5h1M319 542.5h1M323 544.5h1M324 544.5h1M325 544.5h1M329 546.5h1M330 546.5h1M331 546.5h1M335 547.5h1M336 547.5h1M337 548.5h1M341 549.5h1M342 549.5h1M343 549.5h1M347 550.5h1M348 550.5h1M349 551.5h1M353 551.5h1M354 551.5h1M355 552.5h1M359 552.5h1M360 552.5h1M361 552.5h1M365 552.5h1M366 552.5h1M367 552.5h1M371 552.5h1M372 551.5h1M373 551.5h1M377 551.5h1M378 551.5h1M379 551.5h1M383 550.5h1M384 550.5h1M385 549.5h1M389 548.5h1M390 547.5h1M391 547.5h1M395 546.5h1M396 546.5h1M397 546.5h1M401 545.5h1M402 544.5h1M403 544.5h1M407 543.5h1M408 543.5h1M409 543.5h1M413 543.5h1M414 543.5h1M415 543.5h1M419 544.5h1M420 544.5h1M421 545.5h1M425 546.5h1M426 547.5h1M427 547.5h1M431 549.5h1M432 550.5h1M433 551.5h1M437 554.5h1M438 554.5h1M439 555.5h1M443 559.5h1M444 559.5h1M445 560.5h1M449 564.5h1M450 565.5h1M451 566.5h1M454 570.5h1M455 571.5h1M456 572.5h1M459 576.5h1M460 577.5h1M461 578.5h1M465 582.5h1M465 583.5h1M466 584.5h1M469 588.5h1M470 589.5h1M471 590.5h1M474 594.5h1M474 595.5h1M475 596.5h1M478 600.5h1M478 601.5h1M479 602.5h1M483 606.5h1M483 607.5h1M484 608.5h1M488 612.5h1M489 613.5h1M490 614.5h1M493 618.5h1M494 619.5h1M495 620.5h1M499 624.5h1M499 625.5h1M500 626.5h1M504 630.5h1M505 631.5h1M506 632.5h1M509 636.5h1M510 637.5h1M511 638.5h1M515 641.5h1M516 641.5h1M517 642.5h1M521 644.5h1M522 645.5h1M523 646.5h1M527 648.5h1M528 648.5h1M529 649.5h1M533 650.5h1M534 650.5h1M535 650.5h1M539 651.5h1M540 651.5h1M541 651.5h1M545 651.5h1M546 651.5h1M547 651.5h1M551 650.5h1M552 650.5h1M553 650.5h1M557 649.5h1M558 649.5h1M559 649.5h1M563 648.5h1M564 647.5h1M565 647.5h1M569 646.5h1M570 645.5h1M571 645.5h1M575 644.5h1M576 644.5h1M577 643.5h1M581 641.5h1M582 641.5h1M583 640.5h1M587 638.5h1M588 638.5h1M589 637.5h1M593 636.5h1M594 635.5h1M595 635.5h1M599 634.5h1M600 634.5h1M601 634.5h1M605 633.5h1M606 632.5h1M607 632.5h1M611 631.5h1M612 630.5h1M613 630.5h1M617 628.5h1M618 628.5h1M619 627.5h1M623 625.5h1M624 625.5h1M625 624.5h1M629 622.5h1M630 622.5h1M631 621.5h1M635 619.5h1M636 619.5h1M637 618.5h1M641 616.5h1M642 615.5h1M643 615.5h1M647 612.5h1M648 611.5h1M649 611.5h1M653 608.5h1M654 607.5h1M655 606.5h1M659 604.5h1M660 604.5h1M661 603.5h1M665 601.5h1M666 601.5h1M667 601.5h1M671 599.5h1M672 599.5h1M673 599.5h1M677 598.5h1M678 597.5h1M679 597.5h1M683 597.5h1M684 596.5h1M685 596.5h1M689 596.5h1M690 596.5h1M691 596.5h1M695 596.5h1M696 596.5h1M697 596.5h1M701 596.5h1M702 596.5h1M703 596.5h1M707 596.5h1M708 596.5h1M709 596.5h1M713 596.5h1M714 596.5h1M715 596.5h1M719 596.5h1M720 596.5h1M721 596.5h1M725 596.5h1M726 596.5h1M727 596.5h1M731 597.5h1M732 597.5h1M733 597.5h1M737 597.5h1M738 597.5h1M739 598.5h1M743 598.5h1M744 598.5h1M745 598.5h1M749 599.5h1M750 599.5h1M751 599.5h1M755 600.5h1M756 600.5h1M757 600.5h1M761 600.5h1M762 600.5h1M763 601.5h1M767 601.5h1M768 601.5h1M769 601.5h1M773 602.5h1M774 602.5h1M775 602.5h1M779 603.5h1M780 603.5h1M781 604.5h1M785 604.5h1M786 604.5h1M787 605.5h1M791 605.5h1M792 605.5h1M793 605.5h1M797 606.5h1M798 606.5h1M799 606.5h1M803 606.5h1M804 605.5h1M805 605.5h1M809 605.5h1M810 604.5h1M811 604.5h1M815 603.5h1M816 602.5h1M817 602.5h1M821 599.5h1M822 599.5h1M823 598.5h1M827 595.5h1M828 594.5h1M829 594.5h1M833 591.5h1M834 591.5h1M835 591.5h1M839 589.5h1M840 589.5h1M841 588.5h1M845 586.5h1M846 586.5h1M847 585.5h1M851 583.5h1M852 583.5h1M853 582.5h1M857 581.5h1M858 580.5h1M859 580.5h1M863 579.5h1M864 579.5h1M865 579.5h1M869 578.5h1M870 578.5h1M871 578.5h1M875 578.5h1M876 578.5h1M877 578.5h1M881 579.5h1M882 579.5h1M883 580.5h1M887 581.5h1M888 582.5h1M889 582.5h1M893 585.5h1M894 585.5h1M895 586.5h1M899 588.5h1M900 589.5h1M901 589.5h1M905 592.5h1M906 592.5h1M907 593.5h1M911 596.5h1M912 597.5h1M913 597.5h1M917 600.5h1M918 600.5h1M919 601.5h1M923 603.5h1M924 604.5h1M925 604.5h1M929 605.5h1M930 605.5h1M931 606.5h1M935 606.5h1M936 606.5h1M937 607.5h1M941 608.5h1M942 608.5h1M943 608.5h1M947 608.5h1M948 607.5h1M949 607.5h1M953 607.5h1M954 606.5h1M955 606.5h1M959 605.5h1M960 604.5h1M961 604.5h1M965 601.5h1M966 600.5h1M967 599.5h1M971 597.5h1M972 596.5h1M973 595.5h1M977 592.5h1M978 591.5h1M979 591.5h1M983 587.5h1M984 586.5h1M985 586.5h1M989 583.5h1M990 583.5h1M991 582.5h1M995 580.5h1M996 579.5h1M997 578.5h1M1001 576.5h1M1002 576.5h1M1003 575.5h1M1007 573.5h1M1008 573.5h1M1009 572.5h1M1013 571.5h1M1014 570.5h1M1015 570.5h1M1019 570.5h1M1020 570.5h1M1021 570.5h1M1025 571.5h1M1026 571.5h1M1027 571.5h1M1031 572.5h1M1032 572.5h1M1033 573.5h1M1037 574.5h1M1038 575.5h1M1039 575.5h1M1043 578.5h1M1044 578.5h1M1045 579.5h1M1049 582.5h1M1050 583.5h1M1051 584.5h1M1055 587.5h1M1056 588.5h1M1057 589.5h1M1061 592.5h1M1062 593.5h1M1063 594.5h1M1067 598.5h1M1067 599.5h1M1068 600.5h1M1072 604.5h1M1073 605.5h1M1074 606.5h1M1078 610.5h1M1079 611.5h1M1080 612.5h1M1084 615.5h1M1085 616.5h1M1086 617.5h1M1090 621.5h1M1091 622.5h1M1092 622.5h1M1096 626.5h1M1097 626.5h1M1098 627.5h1M1102 629.5h1M1103 629.5h1M1104 630.5h1M1108 632.5h1M1109 632.5h1M1110 633.5h1M1114 634.5h1M1115 635.5h1M1116 635.5h1M1120 636.5h1M1121 637.5h1M1122 637.5h1M1126 638.5h1M1127 638.5h1M1128 638.5h1M1132 639.5h1M1133 640.5h1M1134 640.5h1M1138 641.5h1M1139 641.5h1M1140 641.5h1M1144 642.5h1M1145 642.5h1M1146 642.5h1M1150 643.5h1M1151 643.5h1M1152 643.5h1M1156 644.5h1M1157 644.5h1M1158 644.5h1M1162 644.5h1M1163 644.5h1M1164 643.5h1M1168 643.5h1M1169 643.5h1M1170 643.5h1M1174 642.5h1M1175 642.5h1M1176 642.5h1M1180 640.5h1M1181 639.5h1M1182 639.5h1M1186 636.5h1M1187 636.5h1M1188 635.5h1M1192 632.5h1M1193 632.5h1M1194 631.5h1M1198 628.5h1M1199 627.5h1M1200 626.5h1M1204 623.5h1M1205 623.5h1M1206 622.5h1M1210 618.5h1M1211 617.5h1M1211 616.5h1M1215 612.5h1M1216 611.5h1M1217 610.5h1M1221 607.5h1M1222 606.5h1M1223 605.5h1M1227 601.5h1M1227 600.5h1M1228 599.5h1M1232 595.5h1M1233 594.5h1M1234 593.5h1M1238 589.5h1M1239 588.5h1M1240 587.5h1M1244 585.5h1M1245 584.5h1M1246 584.5h1M1250 581.5h1M1251 581.5h1M1252 580.5h1M1256 578.5h1M1257 577.5h1M1258 577.5h1M1262 575.5h1M1263 574.5h1M1264 574.5h1M1268 572.5h1M1269 572.5h1M1270 571.5h1M1274 570.5h1M1275 570.5h1M1276 570.5h1M1280 569.5h1M1281 569.5h1M1282 568.5h1M1286 567.5h1M1287 567.5h1M1288 567.5h1M1292 566.5h1M1293 566.5h1M1294 565.5h1M1298 564.5h1M1299 563.5h1M1300 563.5h1M1304 561.5h1M1305 560.5h1M1306 560.5h1M1310 558.5h1M1311 558.5h1M1312 558.5h1M1316 556.5h1M1317 556.5h1M1318 555.5h1M1322 554.5h1M1323 554.5h1M1324 553.5h1M1328 552.5h1M1329 551.5h1M1330 551.5h1M1334 549.5h1M1335 549.5h1M1336 549.5h1M1340 547.5h1M1341 546.5h1M1342 546.5h1M1346 543.5h1M1347 543.5h1M1348 542.5h1M1352 539.5h1M1353 539.5h1M1354 538.5h1M1358 536.5h1M1359 535.5h1M1360 535.5h1M1364 533.5h1M1365 532.5h1M1366 532.5h1M1370 530.5h1M1371 530.5h1M1372 530.5h1M1376 529.5h1M1377 529.5h1M1378 529.5h1M1382 528.5h1" fill="none" stroke="#f00" stroke-width="1"/>
<rect x="1588" y="507" width="2" height="1" fill="#000"/>
<rect x="1588" y="557" width="2" height="1" fill="#000"/>
<rect x="1588" y="666" width="2" height="1" fill="#000"/>
<line x1="0" y1="697.5" x2="1587" y2="697.5" stroke="#c0c0c0" stroke-width="1" stroke-dasharray="3 3"/>
<line x1="0" y1="736.5" x2="1587" y2="736.5" stroke="#c0c0c0" stroke-width="1" stroke-dasharray="3 3"/>
<line x1="0" y1="783.5" x2="1587" y2="783.5" stroke="#c0c0c0" stroke-width="1" stroke-dasharray="3 3"/>
<polyline points="-0.5,750.4 7.5,749.1 15.5,747.3 23.5,755.6 31.5,747.8 39.5,740.9 47.5,735.4 55.5,733.4 63.5,735.4 71.5,734.4 79.5,743.2 87.5,745.8 95.5,741.9 103.5,734.9 111.5,740.6 119.5,741.9 127.5,735.7 135.5,742.1 143.5,746.8 151.5,743.4 159.5,734.4 167.5,735.4 175.5,742.1 183.5,746.5 191.5,746.5 199.5,738.8 207.5,734.4 215.5,730.3 223.5,725.9 231.5,721.2 239.5,730.3 247.5,730.3 255.5,731.6 263.5,731.6 271.5,726.6 279.5,738.3 287.5,736.7 295.5,736.5 303.5,734.4 311.5,742.1 319.5,749.4 327.5,738.3 335.5,739.6 343.5,731.0 351.5,729.2 359.5,727.4 367.5,723.0 375.5,735.4 383.5,732.6 391.5,732.6 399.5,737.5 407.5,742.1 415.5,745.2 423.5,756.1 431.5,750.4 439.5,754.5 447.5,753.5 455.5,758.2 463.5,758.4 471.5,765.4 479.5,763.3 487.5,754.3 495.5,758.2 503.5,761.5 511.5,758.4 519.5,757.1 527.5,747.3 535.5,748.6 543.5,753.3 551.5,749.4 559.5,747.3 567.5,748.9 575.5,753.3 583.5,754.5 591.5,755.6 599.5,750.7 607.5,750.2 615.5,740.1 623.5,734.4 631.5,738.3 639.5,738.3 647.5,740.1 655.5,744.2 663.5,747.6 671.5,759.2 679.5,758.4 687.5,755.1 695.5,743.7 703.5,742.1 711.5,735.7 719.5,742.7 727.5,748.3 735.5,752.5 743.5,758.2 751.5,760.5 759.5,758.2 767.5,748.9 775.5,745.5 783.5,740.6 791.5,743.7 799.5,745.2 807.5,731.0 815.5,731.0 823.5,731.3 831.5,736.5 839.5,742.1 847.5,745.2 855.5,739.6 863.5,752.0 871.5,754.0 879.5,756.4 887.5,759.5 895.5,763.6 903.5,762.3 911.5,746.5 919.5,740.6 927.5,746.5 935.5,743.2 943.5,736.7 951.5,735.2 959.5,727.4 967.5,736.2 975.5,730.3 983.5,732.3 991.5,729.2 999.5,744.2 1007.5,743.2 1015.5,750.2 1023.5,751.4 1031.5,755.3 1039.5,756.6 1047.5,754.5 1055.5,765.4 1063.5,754.5 1071.5,758.4 1079.5,757.4 1087.5,757.4 1095.5,756.1 1103.5,742.7 1111.5,752.0 1119.5,754.3 1127.5,757.4 1135.5,759.5 1143.5,757.4 1151.5,759.5 1159.5,752.5 1167.5,744.2 1175.5,727.4 1183.5,736.2 1191.5,734.1 1199.5,732.3 1207.5,731.3 1215.5,742.4 1223.5,741.4 1231.5,737.0 1239.5,741.4 1247.5,734.9 1255.5,733.4 1263.5,730.3 1271.5,738.3 1279.5,736.5 1287.5,736.5 1295.5,736.5 1303.5,728.2 1311.5,731.6 1319.5,725.4 1327.5,728.5 1335.5,727.2 1343.5,717.1 1351.5,717.1 1359.5,728.5 1367.5,738.3 1375.5,739.6 1383.5,744.5" fill="none" stroke="#1e90ff" stroke-width="1"/>
<rect x="1588" y="671" width="2" height="1" fill="#000"/>
<rect x="1588" y="802" width="2" height="1" fill="#000"/>
<rect x="-1" y="804" width="1" height="3" fill="#000"/>
<rect x="63" y="804" width="1" height="3" fill="#000"/>
<rect x="127" y="804" width="1" height="3" fill="#000"/>
<rect x="191" y="804" width="1" height="3" fill="#000"/>
<rect x="255" y="804" width="1" height="3" fill="#000"/>
<rect x="319" y="804" width="1" height="3" fill="#000"/>
<rect x="383" y="804" width="1" height="3" fill="#000"/>
<rect x="447" y="804" width="1" height="3" fill="#000"/>
<rect x="511" y="804" width="1" height="3" fill="#000"/>
<rect x="575" y="804" width="1" height="3" fill="#000"/>
<rect x="639" y="804" width="1" height="3" fill="#000"/>
<rect x="703" y="804" width="1" height="3" fill="#000"/>
<rect x="767" y="804" width="1" height="3" fill="#000"/>
<rect x="831" y="804" width="1" height="3" fill="#000"/>
<rect x="895" y="804" width="1" height="3" fill="#000"/>
<rect x="959" y="804" width="1" height="3" fill="#000"/>
<rect x="1023" y="804" width="1" height="3" fill="#000"/>
<rect x="1087" y="804" width="1" height="3" fill="#000"/>
<rect x="1151" y="804" width="1" height="3" fill="#000"/>
<rect x="1215" y="804" width="1" height="3" fill="#000"/>
<rect x="1279" y="804" width="1" height="3" fill="#000"/>
<rect x="1343" y="804" width="1" height="3" fill="#000"/>
<g font-family="Liberation Sans, sans-serif" font-size="10.1px" shape-rendering="geometricPrecision" stroke-width="0.2"><text transform="translate(1593 42) matrix(0.91 0 0.0005 1 0 0)" fill="#000" stroke="#000">31736.5</text><text transform="translate(1593 75) matrix(0.91 0 0.0005 1 0 0)" fill="#000" stroke="#000">31209.5</text><text transform="translate(1593 108) matrix(0.91 0 0.0005 1 0 0)" fill="#000" stroke="#000">30682.5</text><text transform="translate(1593 141) matrix(0.91 0 0.0005 1 0 0)" fill="#000" stroke="#000">30155.5</text><text transform="translate(1593 174) matrix(0.91 0 0.0005 1 0 0)" fill="#000" stroke="#000">29628.5</text><text transform="translate(1593 207) matrix(0.91 0 0.0005 1 0 0)" fill="#000" stroke="#000">29117.0</text><text transform="translate(1593 240) matrix(0.91 0 0.0005 1 0 0)" fill="#000" stroke="#000">28590.0</text><text transform="translate(1593 273) matrix(0.91 0 0.0005 1 0 0)" fill="#000" stroke="#000">28063.0</text><text transform="translate(1593 306) matrix(0.91 0 0.0005 1 0 0)" fill="#000" stroke="#000">27536.0</text><text transform="translate(1593 339) matrix(0.91 0 0.0005 1 0 0)" fill="#000" stroke="#000">27009.0</text><text transform="translate(1593 372) matrix(0.91 0 0.0005 1 0 0)" fill="#000" stroke="#000">26482.0</text><text transform="translate(1593 405) matrix(0.91 0 0.0005 1 0 0)" fill="#000" stroke="#000">25955.0</text><text transform="translate(1593 438) matrix(0.91 0 0.0005 1 0 0)" fill="#000" stroke="#000">25428.0</text><text transform="translate(1593 471) matrix(0.91 0 0.0005 1 0 0)" fill="#000" stroke="#000">24901.0</text><text transform="translate(1593 504) matrix(0.91 0 0.0005 1 0 0)" fill="#000" stroke="#000">24389.5</text><text transform="translate(1591 516) matrix(0.91 0 0.0005 1 0 0)" fill="#000" stroke="#000">323.39</text><text transform="translate(1591 561) matrix(0.91 0 0.0005 1 0 0)" fill="#000" stroke="#000">0.00</text><text transform="translate(1591 664) matrix(0.91 0 0.0005 1 0 0)" fill="#000" stroke="#000">-698.27</text><text transform="translate(1591 680) matrix(0.91 0 0.0005 1 0 0)" fill="#000" stroke="#000">100</text><text transform="translate(1591 701) matrix(0.91 0 0.0005 1 0 0)" fill="#000" stroke="#000">80</text><text transform="translate(1591 740) matrix(0.91 0 0.0005 1 0 0)" fill="#000" stroke="#000">50</text><text transform="translate(1591 787) matrix(0.91 0 0.0005 1 0 0)" fill="#000" stroke="#000">15</text><text transform="translate(1591 800) matrix(0.91 0 0.0005 1 0 0)" fill="#000" stroke="#000">0</text><text transform="translate(-2 816) matrix(0.91 0 0.0005 1 0 0)" fill="#000" stroke="#000">28 Mar 2018</text><text transform="translate(62 816) matrix(0.91 0 0.0005 1 0 0)" fill="#000" stroke="#000">12 Apr 2018</text><text transform="translate(126 816) matrix(0.91 0 0.0005 1 0 0)" fill="#000" stroke="#000">24 Apr 2018</text><text transform="translate(190 816) matrix(0.91 0 0.0005 1 0 0)" fill="#000" stroke="#000">7 May 2018</text><text transform="translate(254 816) matrix(0.91 0 0.0005 1 0 0)" fill="#000" stroke="#000">17 May 2018</text><text transform="translate(318 816) matrix(0.91 0 0.0005 1 0 0)" fill="#000" stroke="#000">30 May 2018</text><text transform="translate(382 816) matrix(0.91 0 0.0005 1 0 0)" fill="#000" stroke="#000">11 Jun 2018</text><text transform="translate(446 816) matrix(0.91 0 0.0005 1 0 0)" fill="#000" stroke="#000">22 Jun 2018</text><text transform="translate(510 816) matrix(0.91 0 0.0005 1 0 0)" fill="#000" stroke="#000">5 Jul 2018</text><text transform="translate(574 816) matrix(0.91 0 0.0005 1 0 0)" fill="#000" stroke="#000">17 Jul 2018</text><text transform="translate(638 816) matrix(0.91 0 0.0005 1 0 0)" fill="#000" stroke="#000">27 Jul 2018</text><text transform="translate(702 816) matrix(0.91 0 0.0005 1 0 0)" fill="#000" stroke="#000">8 Aug 2018</text><text transform="translate(766 816) matrix(0.91 0 0.0005 1 0 0)" fill="#000" stroke="#000">20 Aug 2018</text><text transform="translate(830 816) matrix(0.91 0 0.0005 1 0 0)" fill="#000" stroke="#000">30 Aug 2018</text><text transform="translate(894 816) matrix(0.91 0 0.0005 1 0 0)" fill="#000" stroke="#000">11 Sep 2018</text><text transform="translate(958 816) matrix(0.91 0 0.0005 1 0 0)" fill="#000" stroke="#000">21 Sep 2018</text><text transform="translate(1022 816) matrix(0.91 0 0.0005 1 0 0)" fill="#000" stroke="#000">5 Oct 2018</text><text transform="translate(1086 816) matrix(0.91 0 0.0005 1 0 0)" fill="#000" stroke="#000">18 Oct 2018</text><text transform="translate(1150 816) matrix(0.91 0 0.0005 1 0 0)" fill="#000" stroke="#000">30 Oct 2018</text><text transform="translate(1214 816) matrix(0.91 0 0.0005 1 0 0)" fill="#000" stroke="#000">9 Nov 2018</text><text transform="translate(1278 816) matrix(0.91 0 0.0005 1 0 0)" fill="#000" stroke="#000">21 Nov 2018</text><text transform="translate(1342 816) matrix(0.91 0 0.0005 1 0 0)" fill="#000" stroke="#000">3 Dec 2018</text><text transform="translate(13.5 39) matrix(0.94 0 0.0005 1 0 0)" fill="#000" stroke="#000">HK50-,Daily</text><text transform="translate(71 39) matrix(0.91 0 0.0005 1 0 0)" fill="#000" stroke="#000">25753.0 25827.0 25548.0 25701.0</text><text transform="translate(3 518) matrix(0.93 0 0.0005 1 0 0)" fill="#000" stroke="#000">MACD(12,26,9) 103.55 184.13</text><text transform="translate(3 682) matrix(0.91 0 0.0005 1 0 0)" fill="#000" stroke="#000">RSI(14) 43.6016</text></g>
<rect x="1588" y="370" width="1" height="1" fill="#000"/>
<rect x="1589" y="364" width="37" height="11" fill="#f00"/>
<rect x="1588" y="390" width="1" height="1" fill="#000"/>
<rect x="1589" y="384" width="37" height="11" fill="#f00"/>
<rect x="1588" y="406" width="1" height="1" fill="#000"/>
<rect x="1589" y="400" width="37" height="11" fill="#008000"/>
<rect x="1588" y="417" width="1" height="1" fill="#000"/>
<rect x="1589" y="412" width="37" height="11" fill="#000"/>
<rect x="1588" y="432" width="1" height="1" fill="#000"/>
<rect x="1589" y="426" width="37" height="11" fill="#00f"/>
<rect x="1588" y="453" width="1" height="1" fill="#000"/>
<rect x="1589" y="447" width="37" height="11" fill="#00f"/>
<g font-family="Liberation Sans, sans-serif" font-size="10.1px" shape-rendering="geometricPrecision" stroke-width="0.2"><text transform="translate(1593 373) matrix(0.91 0 0.0005 1 0 0)" fill="#fff" stroke="#fff">26450.8</text><text transform="translate(1593 393) matrix(0.91 0 0.0005 1 0 0)" fill="#fff" stroke="#fff">26128.0</text><text transform="translate(1593 409) matrix(0.91 0 0.0005 1 0 0)" fill="#fff" stroke="#fff">25883.6</text><text transform="translate(1593 421) matrix(0.91 0 0.0005 1 0 0)" fill="#fff" stroke="#fff">25701.0</text><text transform="translate(1593 435) matrix(0.91 0 0.0005 1 0 0)" fill="#fff" stroke="#fff">25470.6</text><text transform="translate(1593 456) matrix(0.91 0 0.0005 1 0 0)" fill="#fff" stroke="#fff">25137.1</text></g>
<polygon points="2,38 10,38 6,33.5" fill="#000" shape-rendering="geometricPrecision"/></svg>
<svg width="1626" height="27" viewBox="0 0 1626 27" style="position:absolute;left:0;top:0">
<defs>
<pattern id="dith" width="2" height="2" patternUnits="userSpaceOnUse"><rect width="2" height="2" fill="#f0f0f0"/><rect width="1" height="1" fill="#fff"/><rect x="1" y="1" width="1" height="1" fill="#fff"/></pattern>
<linearGradient id="gold" x1="0" y1="0" x2="1" y2="1"><stop offset="0" stop-color="#fff0a0"/><stop offset="0.5" stop-color="#f0c020"/><stop offset="1" stop-color="#b07010"/></linearGradient>
<linearGradient id="blu" x1="0" y1="0" x2="0" y2="1"><stop offset="0" stop-color="#e8f4ff"/><stop offset="1" stop-color="#a8d0f0"/></linearGradient>
<linearGradient id="grn" x1="0" y1="0" x2="1" y2="0"><stop offset="0" stop-color="#20c020"/><stop offset="0.5" stop-color="#80ff80"/><stop offset="1" stop-color="#10a010"/></linearGradient>
<linearGradient id="bub" x1="0" y1="0" x2="0" y2="1"><stop offset="0" stop-color="#ffffff"/><stop offset="1" stop-color="#d4d4dc"/></linearGradient>
</defs>
<g shape-rendering="crispEdges">
<rect x="0" y="0" width="1626" height="22" fill="#f0f0f0"/>
<rect x="0" y="22" width="1626" height="1" fill="#f8f8f8"/>
<rect x="0" y="23" width="1626" height="1" fill="#a0a0a0"/>
<rect x="0" y="24" width="1626" height="1" fill="#696969"/>
<rect x="0" y="25" width="1626" height="2" fill="#fff"/>
<!-- separators -->
<g fill="#a0a0a0">
<rect x="129" y="0" width="1" height="23"/><rect x="224" y="1" width="1" height="20"/><rect x="314" y="1" width="1" height="20"/><rect x="376" y="1" width="1" height="20"/>
<rect x="497" y="0" width="1" height="23"/><rect x="564" y="1" width="1" height="20"/><rect x="803" y="0" width="1" height="23"/><rect x="1064" y="0" width="1" height="21"/>
</g>
<g fill="#fff">
<rect x="130" y="0" width="1" height="23"/><rect x="498" y="0" width="1" height="23"/><rect x="804" y="0" width="1" height="23"/>
</g>
<!-- grippers -->
<g fill="#a0a0a0">
<rect x="133" y="2" width="3" height="1"/><rect x="133" y="4" width="3" height="1"/><rect x="133" y="6" width="3" height="1"/><rect x="133" y="8" width="3" height="1"/><rect x="133" y="10" width="3" height="1"/><rect x="133" y="12" width="3" height="1"/><rect x="133" y="14" width="3" height="1"/><rect x="133" y="16" width="3" height="1"/><rect x="133" y="18" width="3" height="1"/><rect x="133" y="20" width="3" height="1"/><rect x="501" y="2" width="3" height="1"/><rect x="501" y="4" width="3" height="1"/><rect x="501" y="6" width="3" height="1"/><rect x="501" y="8" width="3" height="1"/><rect x="501" y="10" width="3" height="1"/><rect x="501" y="12" width="3" height="1"/><rect x="501" y="14" width="3" height="1"/><rect x="501" y="16" width="3" height="1"/><rect x="501" y="18" width="3" height="1"/><rect x="501" y="20" width="3" height="1"/><rect x="807" y="2" width="3" height="1"/><rect x="807" y="4" width="3" height="1"/><rect x="807" y="6" width="3" height="1"/><rect x="807" y="8" width="3" height="1"/><rect x="807" y="10" width="3" height="1"/><rect x="807" y="12" width="3" height="1"/><rect x="807" y="14" width="3" height="1"/><rect x="807" y="16" width="3" height="1"/><rect x="807" y="18" width="3" height="1"/><rect x="807" y="20" width="3" height="1"/>
</g>
<!-- pressed buttons -->
<rect x="168" y="0" width="24" height="21" fill="url(#dith)"/><rect x="167" y="0" width="1" height="21" fill="#a0a0a0"/><rect x="192" y="0" width="1" height="22" fill="#fff"/>
<rect x="320" y="0" width="24" height="21" fill="url(#dith)"/><rect x="319" y="0" width="1" height="21" fill="#a0a0a0"/><rect x="344" y="0" width="1" height="22" fill="#fff"/>
<rect x="348" y="0" width="24" height="21" fill="url(#dith)"/><rect x="347" y="0" width="1" height="21" fill="#a0a0a0"/><rect x="372" y="0" width="1" height="22" fill="#fff"/>
<rect x="508" y="0" width="24" height="21" fill="url(#dith)"/><rect x="507" y="0" width="1" height="21" fill="#a0a0a0"/><rect x="532" y="0" width="1" height="22" fill="#fff"/>
<rect x="982" y="0" width="24" height="21" fill="url(#dith)"/><rect x="981" y="0" width="1" height="21" fill="#a0a0a0"/><rect x="1006" y="0" width="1" height="22" fill="#fff"/>
</g>
<!-- chart axes icons -->
<g stroke="#505050" stroke-width="1.1" fill="none">
<path d="M147.5 5.5V18.5M145.0 16.5H158.5M146.0 7.5 147.5 5.3 149.0 7.5M157.0 15 159.0 16.5 157.0 18"/>
<path d="M175.5 5.5V18.5M173.0 16.5H186.5M174.0 7.5 175.5 5.3 177.0 7.5M185.0 15 187.0 16.5 185.0 18"/>
<path d="M203.5 5.5V18.5M201.0 16.5H214.5M202.0 7.5 203.5 5.3 205.0 7.5M213.0 15 215.0 16.5 213.0 18"/>
<path d="M327.5 5.5V18.5M325.0 16.5H338.5M326.0 7.5 327.5 5.3 329.0 7.5M337.0 15 339.0 16.5 337.0 18"/>
<path d="M355.5 5.5V18.5M353.0 16.5H366.5M354.0 7.5 355.5 5.3 357.0 7.5M365.0 15 367.0 16.5 365.0 18"/>
</g>
<path d="M154.5 6.5V14.5M154.5 7.5H157M152 13.5H154.5" stroke="#109010" stroke-width="1.1" fill="none"/>
<path d="M181.5 3V15" stroke="#109010" stroke-width="1.2"/><rect x="179.3" y="5.3" width="4.6" height="7.4" fill="url(#grn)" stroke="#109010" stroke-width="0.8"/>
<path d="M202 13.5C205 12 206 8.5 208.3 8.3 210.5 8.3 212 11.5 214.5 12.3" stroke="#30a030" stroke-width="1.2" fill="none"/>
<path d="M332 7.2 336.3 10.5 332 13.8Z" fill="#40d040" stroke="#109010" stroke-width="0.8"/>
<path d="M361.5 5V15" stroke="#1070b0" stroke-width="1.3"/><path d="M362.5 10.5H367M364.8 8.5 362.8 10.5 364.8 12.5" stroke="#d04000" stroke-width="1.3" fill="none"/>
<!-- book icon -->
<path d="M31.9 4.1 41.4 11.4 41.7 13.6 33.8 18.9 26.2 13.1Q29.6 11 30.3 7.9Z" fill="url(#gold)" stroke="#a8700f" stroke-width="0.9" stroke-linejoin="round"/>
<path d="M27.2 13.6 33.9 18.2 41 13" fill="none" stroke="#f6e08a" stroke-width="1.1"/>
<path d="M26.4 14.2 33.8 19.2 41.8 13.8" fill="none" stroke="#a06810" stroke-width="0.9"/>
<!-- autotrading icon -->
<path d="M53.6 10.2 60.8 19 66 17.5 68.8 9.8Z" fill="#f8dc50" stroke="#d8b020" stroke-width="0.6"/>
<path d="M53.2 8.2C53.5 5.5 58 5.6 58.2 4.4 59 2.6 63.2 2.6 64 4.4 65 5.6 69 4.6 69 7.4 68 10.2 54 11.2 53.2 8.2Z" fill="#5eaee0" stroke="#2a86c0" stroke-width="0.7"/>
<ellipse cx="61" cy="5.2" rx="2.6" ry="1.6" fill="#8cccf0"/>
<circle cx="65.5" cy="14.8" r="4" fill="#e02408"/><circle cx="65.5" cy="14.8" r="4" fill="none" stroke="#b81800" stroke-width="0.6"/><rect x="63.9" y="13.2" width="3.2" height="3.2" fill="#fff"/>
<!-- zoom in/out -->
<path d="M243 13 248 18" stroke="#c8a020" stroke-width="2.6" stroke-linecap="round"/><circle cx="238.8" cy="8.8" r="5" fill="url(#blu)" stroke="#3a80d0" stroke-width="1.2"/><path d="M236 8.8H241.6M238.8 6V11.6" stroke="#3070c0" stroke-width="1.5"/>
<path d="M271 13 276 18" stroke="#c8a020" stroke-width="2.6" stroke-linecap="round"/><circle cx="266.9" cy="8.8" r="5" fill="url(#blu)" stroke="#3a80d0" stroke-width="1.2"/><path d="M264 8.8H269.8" stroke="#3070c0" stroke-width="1.5"/>
<!-- tile -->
<g shape-rendering="crispEdges"><rect x="289" y="3" width="8" height="8" fill="#3a9e10"/><rect x="297" y="3" width="8" height="8" fill="#1c50d0"/><rect x="289" y="11" width="8" height="8" fill="#1c50d0"/><rect x="297" y="11" width="8" height="8" fill="#3a9e10"/>
<rect x="290" y="6" width="6" height="4" fill="#fff"/><rect x="298" y="6" width="6" height="4" fill="#fff"/><rect x="290" y="14" width="6" height="4" fill="#fff"/><rect x="298" y="14" width="6" height="4" fill="#fff"/>
<rect x="291" y="7" width="4" height="1" fill="#a8d898"/><rect x="299" y="7" width="4" height="1" fill="#a0b8f0"/><rect x="291" y="15" width="4" height="1" fill="#a0b8f0"/><rect x="299" y="15" width="4" height="1" fill="#a8d898"/></g>
<!-- indicators -->
<path d="M386.5 3.5H395L398 6.5V16.5H386.5Z" fill="#fff" stroke="#909090" stroke-width="0.9"/><path d="M390 6.5C388 7 389.5 10 388 10.5 389.5 11 388 14 390 14.5" stroke="#606060" stroke-width="0.9" fill="none"/>
<path d="M394.5 9.5H397.8V13.2H401.7V16.6H397.8V20.3H394.5V16.6H390.5V13.2H394.5Z" fill="#30d030" stroke="#10a010" stroke-width="0.7"/>
<!-- dropdown arrows -->
<g fill="#000"><path d="M408 10H413.5L410.75 13Z"/><path d="M447 10H452.5L449.75 13Z"/><path d="M485.5 10H491L488.25 13Z"/><path d="M792 10H797.5L794.75 13Z"/></g>
<!-- clock -->
<circle cx="432" cy="10.9" r="7" fill="#fff" stroke="#1a68d0" stroke-width="2.2"/><path d="M432 6.5V11H435.5" stroke="#404040" stroke-width="1.1" fill="none"/>
<!-- template -->
<rect x="463.5" y="4.5" width="15" height="13" fill="#fff" stroke="#3a78c8" stroke-width="1"/><rect x="463" y="4" width="16" height="2.5" fill="#5a98e0"/><path d="M463.5 11.5H478.5" stroke="#3a78c8" stroke-width="0.8"/>
<path d="M465.5 10 468 9 470 8.3 472.5 9 475 8.5 477 8" stroke="#b02010" stroke-width="1.2" fill="none"/><path d="M465.5 15.5 468 14.5 470 15 472.5 13.5 475 15 477 15.5" stroke="#209020" stroke-width="1.2" fill="none"/>
<!-- cursor -->
<path d="M515.2 3.8V16L518 13.6 520.3 18.2 522 17.3 519.8 12.8 523 12.2Z" fill="#404040"/>
<!-- crosshair -->
<path d="M540 11.5H546M549 11.5H555M547.5 4V10M547.5 13V19" stroke="#404040" stroke-width="1.2"/>
<!-- lines -->
<path d="M581.5 5V18" stroke="#505050" stroke-width="1.2"/><path d="M604 11.5H616" stroke="#505050" stroke-width="1.2"/><path d="M631.7 17.8 644 5.9" stroke="#505050" stroke-width="1.2"/>
<!-- channel -->
<path d="M658 13.5 671 4M659.5 17.5 672 8.5M661 10V16.5M664.5 7.5V14.5M668 5V12M671 3V9" stroke="#505050" stroke-width="1" fill="none"/>
<text x="668.8" y="19.8" font-family="Liberation Sans, sans-serif" font-weight="bold" font-size="6.5px" fill="#303030">E</text>
<!-- fibo -->
<path d="M687 4.5H700M687 8H700M687 11.5H700M687 15.5H695" stroke="#505050" stroke-width="1" stroke-dasharray="1 1"/>
<text x="696.8" y="19.8" font-family="Liberation Sans, sans-serif" font-weight="bold" font-size="6.5px" fill="#303030">F</text>
<!-- T box -->
<rect x="744" y="5.5" width="11.5" height="12" fill="none" stroke="#505050" stroke-width="1" stroke-dasharray="1 1"/>
<text x="749.9" y="15.8" text-anchor="middle" font-family="Liberation Sans, sans-serif" font-weight="bold" font-size="11.5px" fill="#505050">T</text>
<!-- arrows -->
<path d="M771.5 8 774.5 5 777.5 8 774.5 9.5ZM778.5 14 781.7 12.5 784.8 14 781.7 17.5Z" fill="#404040"/><path d="M773 11 775.5 13.5 781 8.5" stroke="#404040" stroke-width="1.4" fill="none"/>
<!-- search -->
<path d="M1583.6 11.6 1579.3 15.6" stroke="#1a50c8" stroke-width="2.6" stroke-linecap="round"/><circle cx="1586.6" cy="8.5" r="3.9" fill="#f4f4f4" stroke="#2a5ad8" stroke-width="1.3"/>
<!-- chat -->
<path d="M1621.5 12.3 1623 15 1619 12.6Z" fill="#909090"/><ellipse cx="1619.6" cy="8" rx="6.2" ry="4.7" fill="url(#bub)" stroke="#a8a8a8" stroke-width="0.9"/>
<path d="M1608.5 15 1607.3 17.8 1611 15.6Z" fill="#909090"/><ellipse cx="1610.4" cy="12.2" rx="5" ry="3.7" fill="url(#bub)" stroke="#a8a8a8" stroke-width="0.9"/>
<!-- texts -->
<g font-family="Liberation Sans, Noto Sans CJK SC, sans-serif" font-size="11.5px" fill="#000"><text x="-9.8" y="14.4" letter-spacing="0.5">订单</text><text x="74.2" y="14.4" letter-spacing="0.5">自动交易</text></g>
<text x="717.2" y="16" font-family="Liberation Sans, sans-serif" font-weight="bold" font-size="12px" fill="#505050" transform="translate(717.2 0) scale(0.95 1) translate(-717.2 0)">A</text>
<g font-family="Liberation Sans, sans-serif" font-size="10.1px" fill="#404040" stroke="#404040" stroke-width="0.15" text-anchor="middle">
<text x="0" y="0" transform="translate(825.0 15) matrix(0.9 0 0.0005 1 0 0)">M1</text><text x="0" y="0" transform="translate(853.1 15) matrix(0.9 0 0.0005 1 0 0)">M5</text><text x="0" y="0" transform="translate(881.2 15) matrix(0.9 0 0.0005 1 0 0)">M15</text><text x="0" y="0" transform="translate(909.3 15) matrix(0.9 0 0.0005 1 0 0)">M30</text><text x="0" y="0" transform="translate(937.4 15) matrix(0.9 0 0.0005 1 0 0)">H1</text><text x="0" y="0" transform="translate(965.5 15) matrix(0.9 0 0.0005 1 0 0)">H4</text><text x="0" y="0" transform="translate(993.6 15) matrix(0.9 0 0.0005 1 0 0)">D1</text><text x="0" y="0" transform="translate(1021.7 15) matrix(0.9 0 0.0005 1 0 0)">W1</text><text x="0" y="0" transform="translate(1049.8 15) matrix(0.9 0 0.0005 1 0 0)">MN</text>
</g>
</svg>

<div class="tp">
<div class="tpbg"></div>
<div class="tab sell"><span>SELL</span><i></i></div>
<div class="tab buy"><span>BUY</span><i></i></div>
<div class="px sellp"><b>25699</b><em>.</em><u>5</u></div>
<div class="px buyp"><b>25718</b><em>.</em><u>5</u></div>
<div class="spin"><div class="sb l"><s class="dn"></s></div><div class="val">1.00</div><div class="sb r"><s class="up"></s></div></div>
</div>

</body></html>
